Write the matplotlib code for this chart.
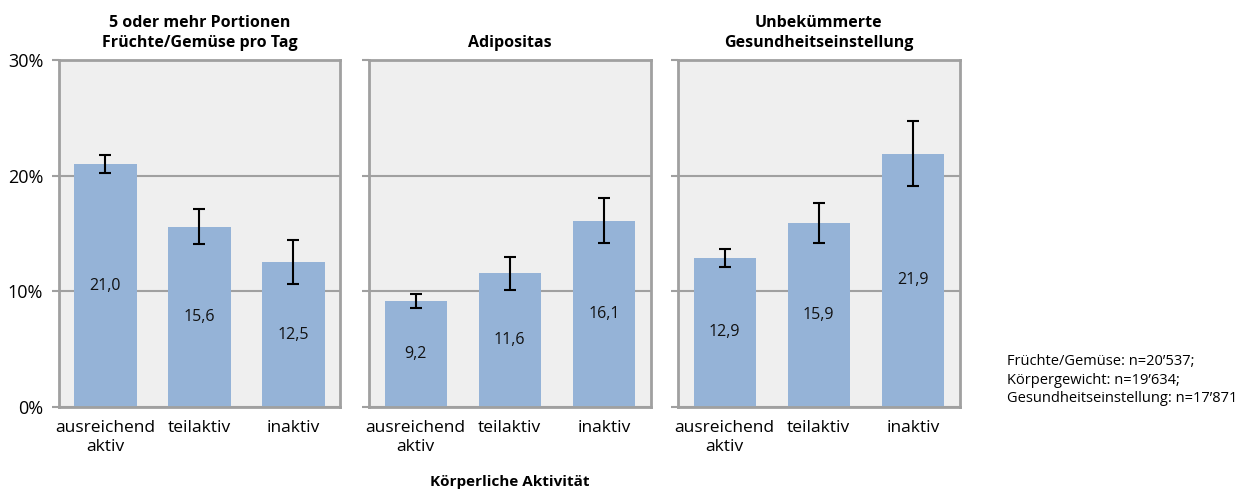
import matplotlib.pyplot as plt
import matplotlib.ticker as mticker

plt.rcParams['font.family'] = ['Open Sans', 'DejaVu Sans']

# Daten
kategorien = ['ausreichend\naktiv', 'teilaktiv', 'inaktiv']
titel = ['5 oder mehr Portionen\nFrüchte/Gemüse pro Tag',
         'Adipositas',
         'Unbekümmerte\nGesundheitseinstellung']
werte = [[21.0, 15.6, 12.5],
         [9.2, 11.6, 16.1],
         [12.9, 15.9, 21.9]]
ki_unten = [[20.2, 14.1, 10.6],
            [8.6, 10.1, 14.2],
            [12.1, 14.2, 19.1]]
ki_oben = [[21.8, 17.1, 14.4],
           [9.8, 13.0, 18.1],
           [13.7, 17.6, 24.7]]
fussnote = "Früchte/Gemüse: n=20\u2019537;\nKörpergewicht: n=19\u2019634;\nGesundheitseinstellung: n=17\u2019871"

BALKEN = '#95b3d7'
RAHMEN = '#a0a0a0'
HINTERGRUND = '#efefef'

W, H = 1248, 490
fig = plt.figure(figsize=(W / 100, H / 100), dpi=100)

panels_x = [(58.5, 340.5), (368.5, 651), (677.5, 960)]
y_top, y_bot = 60, 407

for i, (x0, x1) in enumerate(panels_x):
    ax = fig.add_axes([x0 / W, 1 - y_bot / H, (x1 - x0) / W, (y_bot - y_top) / H])
    ax.set_facecolor(HINTERGRUND)
    pos = range(len(kategorien))
    err = [[w - u for w, u in zip(werte[i], ki_unten[i])],
           [o - w for w, o in zip(werte[i], ki_oben[i])]]
    ax.bar(pos, werte[i], width=0.66, color=BALKEN, zorder=2)
    ax.errorbar(pos, werte[i], yerr=err, fmt='none', ecolor='black',
                elinewidth=1.5, capsize=4, capthick=1.5, zorder=3)
    for p, w in zip(pos, werte[i]):
        ax.text(p, w / 2, f'{w:.1f}'.replace('.', ','), ha='center', va='center',
                fontsize=11.5, color='#111111', zorder=4)
    ax.set_xlim(-0.5, 2.5)
    ax.set_ylim(0, 30)
    ax.set_yticks([0, 10, 20, 30])
    ax.yaxis.grid(True, color=RAHMEN, linewidth=1.5, zorder=1)
    ax.set_axisbelow(True)
    for s in ax.spines.values():
        s.set_color(RAHMEN)
        s.set_linewidth(2)
    ax.tick_params(axis='y', length=5, width=1.5, color=RAHMEN, labelsize=13, pad=6)
    ax.tick_params(axis='x', length=0, labelsize=12.5, pad=9)
    ax.set_xticks(list(pos))
    ax.set_xticklabels(kategorien, linespacing=1.3)
    if i == 0:
        ax.yaxis.set_major_formatter(mticker.FuncFormatter(lambda v, _: f'{v:.0f}%'))
    else:
        ax.set_yticklabels([])
    ax.set_title(titel[i], fontsize=11.5, fontweight='bold', pad=9, linespacing=1.4)

fig.text(510 / W, 1 - 482 / H, 'Körperliche Aktivität', ha='center', va='center',
         fontsize=11, fontweight='bold')
fig.text(1007 / W, 1 - 380 / H, fussnote, ha='left', va='center', fontsize=10.5,
         linespacing=1.3)

fig.savefig('out.png', dpi=100)
